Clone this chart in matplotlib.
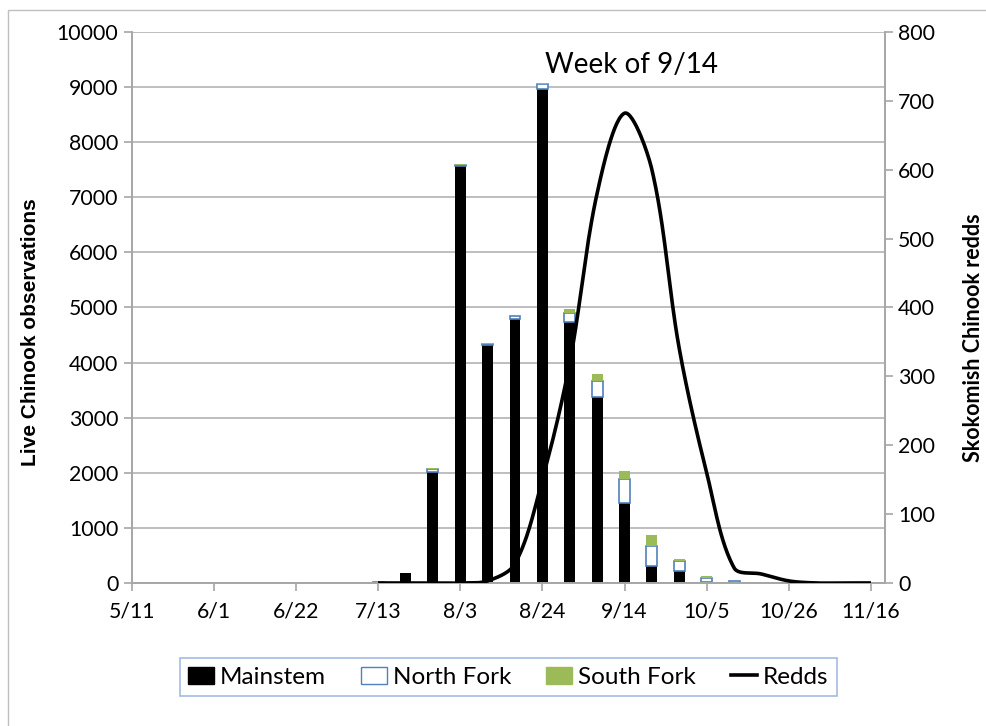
import numpy as np
import matplotlib
matplotlib.use("Agg")
import matplotlib.pyplot as plt
import matplotlib.dates as mdates
from matplotlib.patches import Patch, Rectangle
from matplotlib.lines import Line2D
from matplotlib.ticker import FuncFormatter, MultipleLocator
from datetime import datetime, timedelta

# Settimane di osservazione dal 5/11 al 11/16
week_labels = ['5/11', '5/18', '5/25', '6/1', '6/8', '6/15', '6/22', '6/29', '7/6',
               '7/13', '7/20', '7/27', '8/3', '8/10', '8/17', '8/24', '8/31', '9/7',
               '9/14', '9/21', '9/28', '10/5', '10/12', '10/19', '10/26', '11/2',
               '11/9', '11/16']

# Osservazioni di Chinook vivi per ramo del fiume
mainstem = [0, 0, 5, 0, 5, 5, 0, 0, 0, 0, 180, 2020, 7560, 4310, 4790, 8970, 4730,
            3380, 1450, 310, 220, 25, 0, 0, 0, 0, 0, 0]
north_fork = [0, 0, 0, 0, 0, 0, 0, 0, 0, 15, 0, 50, 20, 20, 50, 90, 175, 285, 440,
              370, 180, 70, 30, 5, 0, 0, 0, 0]
south_fork = [0, 0, 0, 0, 0, 0, 0, 0, 0, 0, 0, 25, 20, 30, 10, 20, 60, 130, 150,
              195, 30, 30, 0, 15, 0, 0, 0, 0]

# Redds (asse destro), dal 7/13 in poi
redds_labels = week_labels[9:]
redds = [0, 0, 0, 0, 3, 28, 150, 320, 566, 682, 600, 340, 160, 22, 13, 3, 0, 0, 0]

# Etichette dell'asse x (ogni 3 settimane)
tick_labels = ['5/11', '6/1', '6/22', '7/13', '8/3', '8/24', '9/14', '10/5', '10/26', '11/16']

YEAR = 2013


def to_date(lbl):
    m, d = lbl.split('/')
    return datetime(YEAR, int(m), int(d))


def smooth_line(xs, ys, sx, sy, n=30):
    """Linea 'smussata' tipo Excel: Bezier con tangenti scalate sulla
    lunghezza dei segmenti (in coordinate schermo)"""
    px = np.asarray(xs, float) * sx
    py = np.asarray(ys, float) * sy
    P = np.column_stack([px, py])
    P = np.vstack([P[0], P, P[-1]])
    out = []
    for i in range(1, len(P) - 2):
        p0, p1, p2, p3 = P[i - 1], P[i], P[i + 1], P[i + 2]
        d01 = np.hypot(*(p1 - p0))
        d12 = np.hypot(*(p2 - p1))
        d23 = np.hypot(*(p3 - p2))
        k1 = d12 / (3 * (d01 + d12)) if d01 + d12 > 0 else 0
        k2 = d12 / (3 * (d12 + d23)) if d12 + d23 > 0 else 0
        c1 = p1 + (p2 - p0) * k1
        c2 = p2 - (p3 - p1) * k2
        t = np.linspace(0, 1, n)[:, None]
        seg = ((1 - t) ** 3 * p1 + 3 * (1 - t) ** 2 * t * c1
               + 3 * (1 - t) * t ** 2 * c2 + t ** 3 * p2)
        out.append(seg if i == 1 else seg[1:])
    out = np.vstack(out)
    return out[:, 0] / sx, out[:, 1] / sy


dates = [to_date(l) for l in week_labels]
ms = np.array(mainstem, float)
nf = np.array(north_fork, float)
sf = np.array(south_fork, float)

plt.rcParams['font.family'] = ['Lato', 'DejaVu Sans']

fig = plt.figure(figsize=(9.87, 7.26), dpi=100)
ax = fig.add_axes([0.1334, 0.197, 0.7633, 0.759])

bar_w = 2.8
grey = '#A6A6A6'

# Barre impilate: Mainstem, North Fork, South Fork (solo valori > 0)
idx = [i for i in range(len(dates)) if ms[i] > 0]
ax.bar([dates[i] for i in idx], ms[idx], width=bar_w, color='black', zorder=2)
idx = [i for i in range(len(dates)) if nf[i] > 0]
ax.bar([dates[i] for i in idx], nf[idx], bottom=ms[idx], width=bar_w,
       facecolor='white', edgecolor='#4F81BD', linewidth=1.2, zorder=2)
idx = [i for i in range(len(dates)) if sf[i] > 0]
ax.bar([dates[i] for i in idx], sf[idx], bottom=(ms + nf)[idx], width=bar_w,
       color='#9BBB59', zorder=2)

x0 = to_date('5/11')
x1 = to_date('11/16') + timedelta(days=3.6)
ax.set_xlim(x0, x1)
ax.set_ylim(0, 10000)
ax.yaxis.set_major_locator(MultipleLocator(1000))
ax.set_xticks([to_date(l) for l in tick_labels])
ax.xaxis.set_major_formatter(FuncFormatter(
    lambda v, p: '%d/%d' % (mdates.num2date(v).month, mdates.num2date(v).day)))

ax.grid(True, axis='y', color='#B3B3B3', linewidth=1.2, zorder=0)
ax.set_axisbelow(True)

ax.spines['top'].set_visible(False)
for s in ['left', 'right', 'bottom']:
    ax.spines[s].set_color(grey)
    ax.spines[s].set_linewidth(1.2)
ax.tick_params(axis='both', colors=grey, labelcolor='black', labelsize=15.3,
               length=6, width=1.2, direction='out')
ax.tick_params(axis='x', pad=7)
ax.set_ylabel('Live Chinook observations', fontsize=15, fontweight='bold',
              family=['Liberation Sans'])
ax.yaxis.set_label_coords(-0.122, 0.455)

# Asse destro: redds
ax2 = ax.twinx()
ax2.set_ylim(0, 800)
ax2.yaxis.set_major_locator(MultipleLocator(100))
rx = [mdates.date2num(to_date(l)) for l in redds_labels]
# scala in pixel (giorno ~3.91 px, redd ~0.689 px) per la curva smussata
lx, ly = smooth_line(rx, redds, 3.91, 0.689)
ax2.plot(lx, ly, color='black', linewidth=2.6, solid_capstyle='butt', zorder=3)
ax2.spines['top'].set_visible(False)
for s in ['left', 'right', 'bottom']:
    ax2.spines[s].set_color(grey)
    ax2.spines[s].set_linewidth(1.2)
ax2.tick_params(axis='y', colors=grey, labelcolor='black', labelsize=15.3,
                length=6, width=1.2)
ax2.set_ylabel('Skokomish Chinook redds', fontsize=15.5, fontweight='bold')
ax2.yaxis.set_label_coords(1.104, 0.445)

# Etichetta della settimana di picco
fig.text(0.64, 0.91, 'Week of 9/14', fontsize=20, ha='center', va='center')

# Legenda
handles = [Patch(facecolor='black', edgecolor='black', label='Mainstem'),
           Patch(facecolor='white', edgecolor='#4F81BD', label='North Fork'),
           Patch(facecolor='#9BBB59', edgecolor='#9BBB59', label='South Fork'),
           Line2D([0], [0], color='black', linewidth=2.6, label='Redds')]
leg = fig.legend(handles=handles, loc='center', bbox_to_anchor=(0.515, 0.067),
                 ncol=4, fontsize=17.5, frameon=True, fancybox=False,
                 handlelength=1.05, handleheight=0.7, handletextpad=0.25,
                 columnspacing=1.45, borderpad=0.35)
leg.get_frame().set_edgecolor('#8FAADC')
leg.get_frame().set_linewidth(1.2)

# Cornice esterna del grafico
fig.add_artist(Rectangle((8 / 987, -0.1), 1.2, 1.1 - 10 / 726, fill=False,
                         edgecolor='#BFBFBF', linewidth=1.0,
                         transform=fig.transFigure))

fig.savefig('out.png', dpi=100)
